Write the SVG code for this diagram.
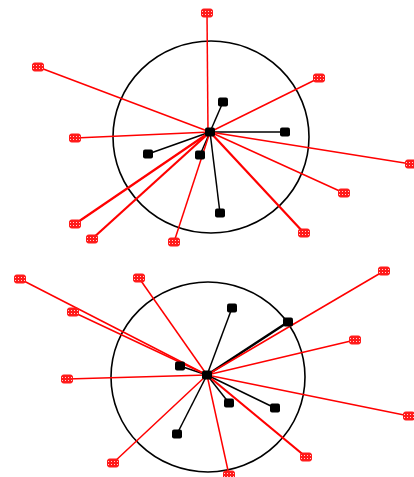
<svg xmlns="http://www.w3.org/2000/svg" width="414" height="477" viewBox="0 0 414 477">
<defs>
<pattern id="dots" width="3" height="3" patternUnits="userSpaceOnUse">
<rect width="3" height="3" fill="#ff1a1a"/>
<rect x="1" y="1" width="1" height="1" fill="#ffd0d0"/>
</pattern>
<symbol id="mk" overflow="visible">
<rect x="-5.5" y="-4" width="11" height="8" rx="2" fill="url(#dots)" stroke="#ff1a1a" stroke-width="1"/>
</symbol>
<symbol id="nd" overflow="visible">
<rect x="-5" y="-4.5" width="10" height="9" rx="2" fill="#000"/>
</symbol>
</defs>
<style>
.ring{fill:none;stroke:#000;stroke-width:1.6}
.r{stroke:#ff0000;stroke-width:1.5;fill:none}
.rt{stroke:#ff0000;stroke-width:2.2;fill:none}
.b{stroke:#000;stroke-width:1.5;fill:none}
.bt{stroke:#000;stroke-width:2.5;fill:none}
</style>
<rect width="414" height="477" fill="#fff"/>
<g id="ring-top"><ellipse class="ring" cx="211" cy="137" rx="98" ry="96"/></g>
<g id="ring-bottom"><ellipse class="ring" cx="208" cy="377" rx="97" ry="95"/></g>
<g id="connectors">
<line class="b" x1="210" y1="132" x2="223" y2="102"/>
<line class="b" x1="210" y1="132" x2="285" y2="132"/>
<line class="b" x1="210" y1="132" x2="148" y2="154"/>
<line class="b" x1="210" y1="132" x2="200" y2="155"/>
<line class="b" x1="210" y1="132" x2="220" y2="213"/>
<line class="r" x1="208" y1="132" x2="207" y2="13"/>
<line class="r" x1="210" y1="132" x2="38" y2="67"/>
<line class="r" x1="210" y1="132" x2="319" y2="78"/>
<line class="r" x1="210" y1="132" x2="75" y2="138"/>
<line class="r" x1="210" y1="132" x2="411" y2="164"/>
<line class="r" x1="210" y1="132" x2="344" y2="193"/>
<line class="rt" x1="210" y1="132" x2="75" y2="224"/>
<line class="rt" x1="210" y1="132" x2="92" y2="239"/>
<line class="r" x1="210" y1="132" x2="174" y2="242"/>
<line class="rt" x1="210" y1="132" x2="304" y2="233"/>
<line class="b" x1="207" y1="375" x2="232" y2="308"/>
<line class="bt" x1="207" y1="375" x2="288" y2="322"/>
<line class="b" x1="207" y1="375" x2="180" y2="366"/>
<line class="b" x1="207" y1="375" x2="229" y2="403"/>
<line class="b" x1="207" y1="375" x2="275" y2="408"/>
<line class="b" x1="207" y1="375" x2="177" y2="434"/>
<line class="r" x1="207" y1="375" x2="20" y2="279"/>
<line class="r" x1="207" y1="375" x2="73" y2="312"/>
<line class="r" x1="207" y1="375" x2="139" y2="278"/>
<line class="r" x1="207" y1="375" x2="67" y2="379"/>
<line class="r" x1="207" y1="375" x2="113" y2="463"/>
<line class="r" x1="207" y1="375" x2="384" y2="271"/>
<line class="r" x1="207" y1="375" x2="355" y2="340"/>
<line class="r" x1="207" y1="375" x2="409" y2="416"/>
<line class="rt" x1="207" y1="375" x2="306" y2="457"/>
<line class="r" x1="207" y1="375" x2="229" y2="475"/>
</g>
<g id="hub-top"><use href="#nd" x="210" y="132"/></g>
<g id="hub-bottom"><use href="#nd" x="207" y="375"/></g>
<g id="nodes-top">
<use href="#nd" x="223" y="102"/>
<use href="#nd" x="285" y="132"/>
<use href="#nd" x="148" y="154"/>
<use href="#nd" x="200" y="155"/>
<use href="#nd" x="220" y="213"/>
</g>
<g id="nodes-bottom">
<use href="#nd" x="232" y="308"/>
<use href="#nd" x="288" y="322"/>
<use href="#nd" x="180" y="366"/>
<use href="#nd" x="229" y="403"/>
<use href="#nd" x="275" y="408"/>
<use href="#nd" x="177" y="434"/>
</g>
<g id="markers-top">
<use href="#mk" x="207" y="13"/>
<use href="#mk" x="38" y="67"/>
<use href="#mk" x="319" y="78"/>
<use href="#mk" x="75" y="138"/>
<use href="#mk" x="411" y="164"/>
<use href="#mk" x="344" y="193"/>
<use href="#mk" x="75" y="224"/>
<use href="#mk" x="92" y="239"/>
<use href="#mk" x="174" y="242"/>
<use href="#mk" x="304" y="233"/>
</g>
<g id="markers-bottom">
<use href="#mk" x="20" y="279"/>
<use href="#mk" x="73" y="312"/>
<use href="#mk" x="139" y="278"/>
<use href="#mk" x="67" y="379"/>
<use href="#mk" x="113" y="463"/>
<use href="#mk" x="384" y="271"/>
<use href="#mk" x="355" y="340"/>
<use href="#mk" x="409" y="416"/>
<use href="#mk" x="306" y="457"/>
<use href="#mk" x="229" y="475"/>
</g>
</svg>
